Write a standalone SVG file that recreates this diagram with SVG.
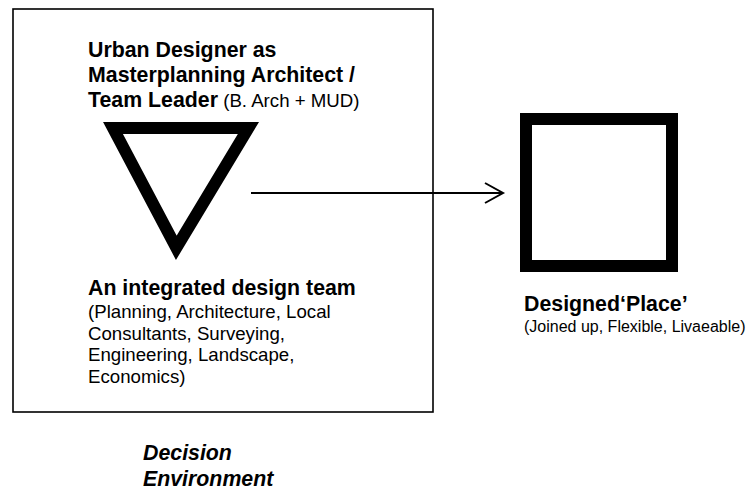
<svg xmlns="http://www.w3.org/2000/svg" width="755" height="490" viewBox="0 0 755 490">
<style>
text{font-family:"Liberation Sans",Arial,sans-serif;fill:#000}
.b{font-weight:bold;font-size:21.33px}
.r{font-size:18.67px}
.bi{font-weight:bold;font-style:italic;font-size:21.33px}
.s{font-size:16px}
.thick{fill:none;stroke:#000;stroke-width:12;stroke-linejoin:miter;stroke-miterlimit:10}
.conn{fill:none;stroke:#000;stroke-width:2}
</style>
<rect width="755" height="490" fill="#fff"/>
<g id="decision-environment">
<rect x="13" y="9" width="420" height="403" fill="none" stroke="#000" stroke-width="1.6"/>
<text class="bi" x="143" y="460">Decision</text>
<text class="bi" x="143" y="486">Environment</text>
</g>
<g id="team-leader">
<text class="b" x="88" y="57">Urban Designer as</text>
<text class="b" x="88" y="82">Masterplanning Architect /</text>
<text x="88" y="107"><tspan class="b">Team Leader</tspan><tspan class="r"> (B. Arch + MUD)</tspan></text>
<polygon class="thick" points="113,128 248.4,128 176.3,247.8"/>
</g>
<g id="design-team">
<text class="b" x="88" y="295">An integrated design team</text>
<text class="r" x="88" y="318">(Planning, Architecture, Local</text>
<text class="r" x="88" y="340">Consultants, Surveying,</text>
<text class="r" x="88" y="361">Engineering, Landscape,</text>
<text class="r" x="88" y="383">Economics)</text>
</g>
<g id="designed-place">
<rect class="thick" x="526" y="119" width="146" height="147"/>
<text class="b" x="524" y="311">Designed‘Place’</text>
<text class="s" x="524" y="332">(Joined up, Flexible, Livaeable)</text>
</g>
<g id="connectors">
<line class="conn" x1="251" y1="193" x2="503" y2="193"/>
<polyline class="conn" points="485,183 503,193 485,203"/>
</g>
</svg>
